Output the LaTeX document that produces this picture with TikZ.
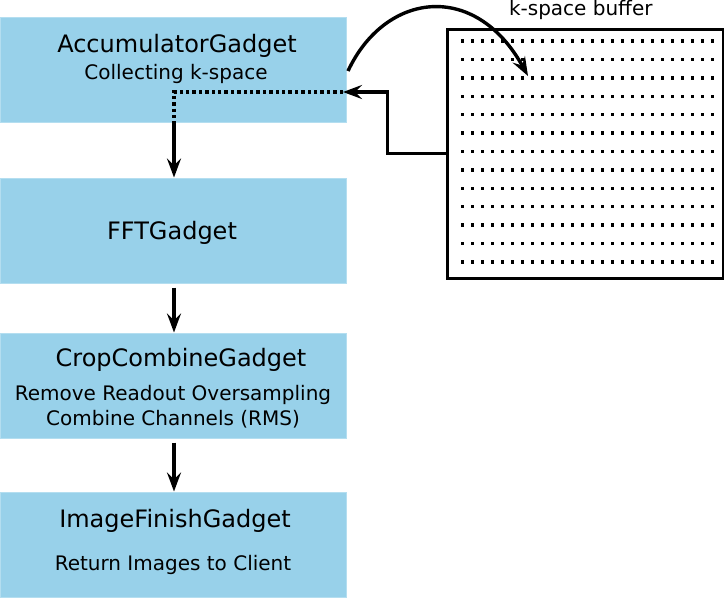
\documentclass[tikz,border=0pt]{standalone}
\usepackage{fontspec}
\setmainfont{DejaVu Sans}
\usetikzlibrary{arrows.meta}

\definecolor{gadgetblue}{HTML}{98D1EA}
\definecolor{gadgetedge}{HTML}{B4DEF0}

\tikzset{
  gadget/.style={draw=gadgetedge,fill=gadgetblue,line width=1pt,minimum width=346pt,minimum height=105pt,inner sep=0pt},
  title/.style={anchor=base,font=\fontsize{24}{28}\selectfont},
  subtitle/.style={anchor=base,font=\fontsize{20}{23}\selectfont},
  flow/.style={line width=3.4pt,-{Stealth[length=19pt,width=14pt,inset=7pt]}},
  dotline/.style={line width=3.4pt,dash pattern=on 3.4pt off 3pt},
  dotrow/.style={line width=3.4pt,dash pattern=on 3.4pt off 6.6pt}
}

\begin{document}
\begin{tikzpicture}[x=1pt,y=-1pt]
  \useasboundingbox (0,0) rectangle (724,598);
  \node[gadget] (acc) at (173.5,70) {};
  \node[gadget] (fft) at (173.5,230.5) {};
  \node[gadget] (crop) at (173.5,385.5) {};
  \node[gadget] (fin) at (173.5,544.5) {};
  \node[title] (acctitle) at (177,52.3) {AccumulatorGadget};
  \node[subtitle] (accsub) at (176,79) {Collecting k-space};
  \node[title] (ffttitle) at (172,239) {FFTGadget};
  \node[title] (croptitle) at (181,366.7) {CropCombineGadget};
  \node[subtitle] (cropsuba) at (173,400.7) {Remove Readout Oversampling};
  \node[subtitle] (cropsubb) at (173,425) {Combine Channels (RMS)};
  \node[title] (fintitle) at (175,527.3) {ImageFinishGadget};
  \node[subtitle] (finsub) at (173,570.7) {Return Images to Client};

  \node[draw,line width=3pt,minimum width=276pt,minimum height=249pt,inner sep=0pt] (buf) at (585,153.5) {};
  \node[subtitle] (buflabel) at (580.8,15) {k-space buffer};
  \foreach \r in {0,...,12} \draw[dotrow] (461,41+\r*18.4) -- (714,41+\r*18.4);

  \coordinate (curvestart) at (348,71);
  \coordinate (curveend) at (528,76);
  \coordinate (ret) at (343,92);
  \coordinate (bend) at (174,92);
  \draw[flow] (curvestart) .. controls (385,-8) and (475,-20) .. (curveend);
  \draw[flow] (buf.west) -- ++(-58,0) |- (ret);
  \draw[dotline] (ret) -- (bend) -- (acc.south -| bend);

  \draw[flow] (acc.south -| bend) -- (fft.north -| bend);
  \draw[flow] ([yshift=-4pt]fft.south -| bend) -- (crop.north -| bend);
  \draw[flow] ([yshift=-4pt]crop.south -| bend) -- (fin.north -| bend);
\end{tikzpicture}
\end{document}
